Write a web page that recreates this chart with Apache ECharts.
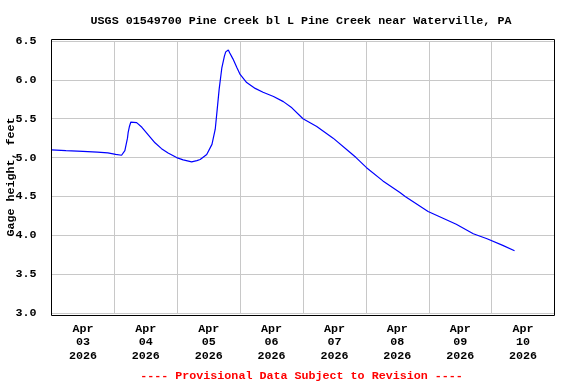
<!DOCTYPE html>
<html>
<head>
<meta charset="utf-8">
<script src="https://cdn.jsdelivr.net/npm/echarts@6/dist/echarts.min.js"></script>
<style>
html,body{margin:0;padding:0;background:#fff;}
#chart{width:576px;height:384px;}
</style>
</head>
<body>
<div id="chart"></div>
<script>
const times = [
  '2026-04-03T00:00','2026-04-03T05:30','2026-04-03T12:00','2026-04-03T17:30','2026-04-03T21:30',
  '2026-04-04T00:30','2026-04-04T02:45','2026-04-04T04:00','2026-04-04T05:00','2026-04-04T05:15',
  '2026-04-04T05:45','2026-04-04T06:15','2026-04-04T07:00','2026-04-04T08:30','2026-04-04T10:30',
  '2026-04-04T13:00','2026-04-04T15:30','2026-04-04T18:00','2026-04-04T20:30','2026-04-04T23:45',
  '2026-04-05T02:15','2026-04-05T05:30','2026-04-05T07:30','2026-04-05T08:45','2026-04-05T11:15',
  '2026-04-05T13:15','2026-04-05T14:30','2026-04-05T15:15','2026-04-05T16:00','2026-04-05T17:00',
  '2026-04-05T18:00','2026-04-05T18:30','2026-04-05T19:30','2026-04-05T20:00','2026-04-05T21:15',
  '2026-04-05T22:45','2026-04-06T00:00','2026-04-06T02:30','2026-04-06T05:45','2026-04-06T08:45',
  '2026-04-06T12:45','2026-04-06T16:30','2026-04-06T19:45','2026-04-07T00:00','2026-04-07T05:15',
  '2026-04-07T11:30','2026-04-07T18:00','2026-04-07T20:15','2026-04-08T00:15','2026-04-08T06:30',
  '2026-04-08T13:00','2026-04-08T15:00','2026-04-08T23:45','2026-04-09T10:30','2026-04-09T17:00',
  '2026-04-09T22:15','2026-04-10T04:15','2026-04-10T08:45'
];
// Gage height, feet
const gageHeight = [
  5.10, 5.09, 5.08, 5.07, 5.06,
  5.04, 5.03, 5.09, 5.25, 5.32,
  5.40, 5.455, 5.47, 5.45, 5.39,
  5.29, 5.19, 5.115, 5.06, 5.00,
  4.97, 4.944, 4.96, 4.975, 5.04,
  5.17, 5.365, 5.62, 5.88, 6.15,
  6.306, 6.36, 6.385, 6.35, 6.27,
  6.16, 6.07, 5.965, 5.89, 5.84,
  5.785, 5.72, 5.64, 5.50, 5.40,
  5.25, 5.065, 5.00, 4.87, 4.70,
  4.55, 4.50, 4.306, 4.143, 4.02,
  3.955, 3.87, 3.80
];
const dayLabels = ['Apr\n03\n2026','Apr\n04\n2026','Apr\n05\n2026','Apr\n06\n2026',
                   'Apr\n07\n2026','Apr\n08\n2026','Apr\n09\n2026','Apr\n10\n2026'];
const titleText = 'USGS 01549700 Pine Creek bl L Pine Creek near Waterville, PA';
const footerText = '---- Provisional Data Subject to Revision ----';
const yName = 'Gage height, feet';

const FONT = "'Liberation Mono', 'DejaVu Sans Mono', monospace";
const DAY = 86400000;
const xMin = Date.UTC(2026, 3, 3);
const xMax = Date.UTC(2026, 3, 11);

const seriesData = times.map((t, i) => [Date.parse(t + ':00Z'), gageHeight[i]]);

const chart = echarts.init(document.getElementById('chart'), null, {renderer: 'canvas'});
chart.setOption({
  animation: false,
  backgroundColor: '#ffffff',
  title: [{
    text: titleText, left: 301, top: 15, textAlign: 'center', padding: 0,
    textStyle: {fontFamily: FONT, fontWeight: 'bold', fontSize: 11.7, color: '#000', lineHeight: 12}
  }, {
    text: footerText, left: 301.5, top: 370, textAlign: 'center', padding: 0,
    textStyle: {fontFamily: FONT, fontWeight: 'bold', fontSize: 11.7, color: '#ff0000', lineHeight: 12}
  }],
  grid: {left: 51.5, right: 21.5, top: 41, bottom: 71, containLabel: false, outerBoundsMode: 'none'},
  xAxis: [{
    type: 'value', min: xMin, max: xMax, interval: DAY,
    axisLine: {show: false}, axisTick: {show: false}, axisLabel: {show: false},
    splitLine: {show: true, lineStyle: {color: '#c8c8c8', width: 1}}
  }, {
    type: 'category', data: dayLabels, boundaryGap: true, position: 'bottom',
    axisLine: {show: false}, axisTick: {show: false}, splitLine: {show: false},
    axisLabel: {margin: 9, fontFamily: FONT, fontWeight: 'bold', fontSize: 11.7, lineHeight: 13.5, color: '#000', interval: 0}
  }],
  yAxis: {
    type: 'value', min: 3, max: 6.5, interval: 0.5,
    name: yName, nameLocation: 'middle', nameGap: 34, nameRotate: 90, nameMoveOverlap: false,
    nameTextStyle: {fontFamily: FONT, fontWeight: 'bold', fontSize: 11.7, color: '#000'},
    axisLine: {show: false}, axisTick: {show: false},
    axisLabel: {margin: 15, fontFamily: FONT, fontWeight: 'bold', fontSize: 11.7, color: '#000',
      formatter: v => v.toFixed(1)},
    splitLine: {show: true, lineStyle: {color: '#c8c8c8', width: 1}}
  },
  graphic: [{
    type: 'rect', z: 100, silent: true,
    shape: {x: 51.5, y: 39.5, width: 503, height: 276},
    style: {fill: null, stroke: '#000', lineWidth: 1}
  }],
  series: [{
    type: 'line', xAxisIndex: 0, data: seriesData, showSymbol: false,
    lineStyle: {color: '#0000ff', width: 1.2}, itemStyle: {color: '#0000ff'}
  }]
});
</script>
</body>
</html>
